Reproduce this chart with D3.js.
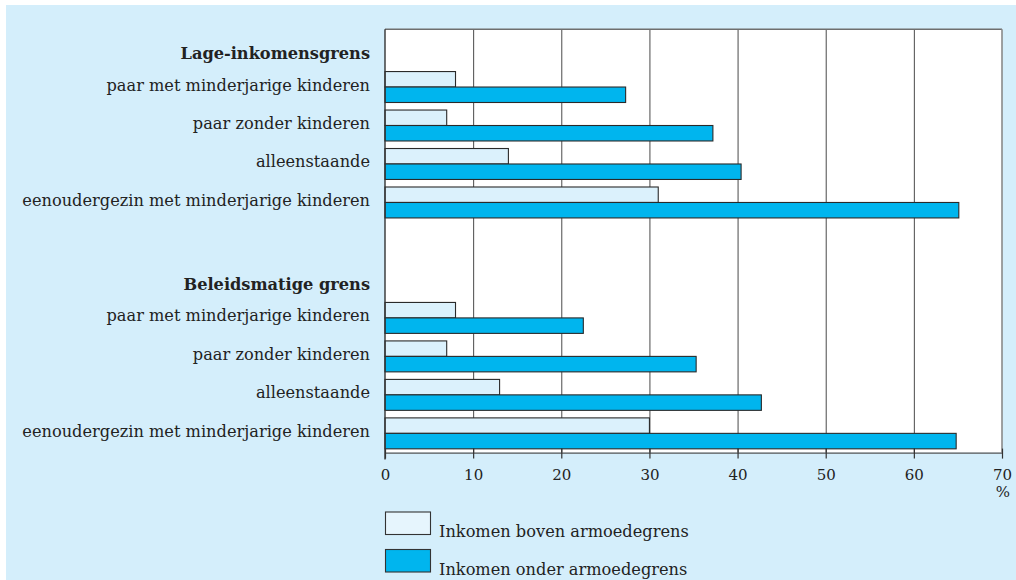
<!DOCTYPE html>
<html>
<head>
<meta charset="utf-8">
<script src="https://cdn.jsdelivr.net/npm/d3@7/dist/d3.min.js"></script>
<style>
  html, body { margin: 0; padding: 0; background: #ffffff; }
  svg { display: block; }
</style>
</head>
<body>
<svg id="chart" width="1016" height="580"></svg>
<script>
// ---- data ----
const groups = ["Lage-inkomensgrens", "Beleidsmatige grens"];
const categories = [
  "paar met minderjarige kinderen",
  "paar zonder kinderen",
  "alleenstaande",
  "eenoudergezin met minderjarige kinderen"
];
const bovenLage   = [8, 7, 14, 31];
const onderLage   = [27.3, 37.2, 40.4, 65.1];
const bovenBeleid = [8, 7, 13, 30];
const onderBeleid = [22.5, 35.3, 42.7, 64.8];
const xTicks = [0, 10, 20, 30, 40, 50, 60, 70];
const seriesNames = ["Inkomen boven armoedegrens", "Inkomen onder armoedegrens"];
const unitLabel = "%";

// ---- styles ----
const FONT = "'Palatino Linotype', 'Book Antiqua', Palatino, 'DejaVu Serif', serif";
const BG = "#d4eefb";
const LIGHT = "#dbf1fc";
const DARK = "#00b5ee";
const OUTLINE = "#2a2a2a";

const svg = d3.select("#chart");

// background panel
svg.append("rect").attr("x", 6).attr("y", 5).attr("width", 1010).attr("height", 575).attr("fill", BG);

// rows: header, 4 cats, gap, header, 4 cats
const rowKeys = [];
const rowInfo = {};
groups.forEach((g, gi) => {
  if (gi > 0) { rowKeys.push("gap" + gi); rowInfo["gap" + gi] = {type: "gap"}; }
  rowKeys.push("H" + gi); rowInfo["H" + gi] = {type: "header", label: g};
  categories.forEach((c, ci) => {
    const k = gi + "-" + ci;
    rowKeys.push(k);
    rowInfo[k] = {type: "cat", label: c, gi, ci};
  });
});

const plotTop = 29.3, plotBottom = 452.6;
const x = d3.scaleLinear().domain([0, 70]).range([385, 1002]);
const y = d3.scaleBand().domain(rowKeys).range([plotTop, plotBottom]).padding(0);

// plot area
svg.append("rect")
  .attr("x", x(0)).attr("y", plotTop)
  .attr("width", x(70) - x(0)).attr("height", plotBottom - plotTop)
  .attr("fill", "#ffffff");

// grid lines
svg.append("g").selectAll("line").data(xTicks.filter(t => t > 0 && t < 70)).join("line")
  .attr("x1", d => x(d) + 0.5).attr("x2", d => x(d) + 0.5)
  .attr("y1", plotTop).attr("y2", plotBottom)
  .attr("stroke", "#4a4a4a").attr("stroke-width", 1);

// frame top & right
svg.append("line").attr("x1", x(0)).attr("x2", x(70)).attr("y1", plotTop).attr("y2", plotTop)
  .attr("stroke", "#6e6e6e").attr("stroke-width", 1.5);
svg.append("line").attr("x1", x(70)).attr("x2", x(70)).attr("y1", plotTop).attr("y2", plotBottom)
  .attr("stroke", "#8a8a8a").attr("stroke-width", 1.6);

// bars
const barData = [];
rowKeys.forEach(k => {
  const r = rowInfo[k];
  if (r.type !== "cat") return;
  const boven = r.gi === 0 ? bovenLage : bovenBeleid;
  const onder = r.gi === 0 ? onderLage : onderBeleid;
  barData.push({key: k, s: 0, v: boven[r.ci]});
  barData.push({key: k, s: 1, v: onder[r.ci]});
});
const barH = y.bandwidth() * 0.402;
svg.append("g").selectAll("rect").data(barData).join("rect")
  .attr("x", x(0))
  .attr("y", d => y(d.key) + y.bandwidth() / 2 - (d.s === 0 ? barH : 0))
  .attr("width", d => x(d.v) - x(0))
  .attr("height", barH)
  .attr("fill", d => d.s === 0 ? LIGHT : DARK)
  .attr("stroke", OUTLINE).attr("stroke-width", 1.1);

// left axis line
svg.append("line").attr("x1", x(0)).attr("x2", x(0)).attr("y1", plotTop).attr("y2", plotBottom + 7)
  .attr("stroke", "#333").attr("stroke-width", 1.4);

// bottom axis
const xAxis = d3.axisBottom(x).tickValues(xTicks).tickSize(0).tickPadding(0).tickFormat(d3.format("d"));
const ax = svg.append("g").attr("transform", `translate(0,${plotBottom})`).call(xAxis);
ax.select(".domain").attr("stroke", "#555").attr("stroke-width", 1.2);
ax.selectAll(".tick line").remove();
ax.selectAll(".tick").append("line")
  .attr("y1", -4).attr("y2", 6).attr("stroke", "#333").attr("stroke-width", 1.2);
ax.selectAll(".tick text")
  .attr("y", 27).attr("dy", 0)
  .attr("font-family", FONT).attr("font-size", 15).attr("fill", "#222");

svg.append("text").attr("x", x(70) + 1).attr("y", 497).attr("text-anchor", "middle")
  .attr("font-family", FONT).attr("font-size", 15).attr("fill", "#222").text(unitLabel);

// row labels
const labelG = svg.append("g").attr("font-family", FONT).attr("fill", "#222").attr("text-anchor", "end");
const labels = labelG.selectAll("text").data(rowKeys.filter(k => rowInfo[k].type !== "gap")).join("text")
  .attr("x", 370)
  .attr("font-weight", k => rowInfo[k].type === "header" ? "bold" : "normal")
  .text(k => rowInfo[k].label);

// fit font size so that longest label matches reference width (~348px)
labels.attr("font-size", 15);
const longest = labels.filter(k => rowInfo[k].label === categories[3]).node();
const w15 = longest.getComputedTextLength();
const fs = 15 * 348 / w15;
labels.attr("font-size", fs)
  .attr("y", k => y(k) + y.bandwidth() / 2 + (rowInfo[k].type === "header" ? 10.5 : 3.5));

// legend
const legend = svg.append("g");
seriesNames.forEach((name, i) => {
  const ly = 512 + i * 37.5;
  legend.append("rect").attr("x", 385.5).attr("y", ly).attr("width", 45).attr("height", 22.5)
    .attr("fill", i === 0 ? "#e6f5fd" : DARK).attr("stroke", "#333").attr("stroke-width", 1.1);
  legend.append("text").attr("x", 439).attr("y", ly + 25)
    .attr("font-family", FONT).attr("font-size", fs).attr("fill", "#222").text(name);
});
</script>
</body>
</html>
